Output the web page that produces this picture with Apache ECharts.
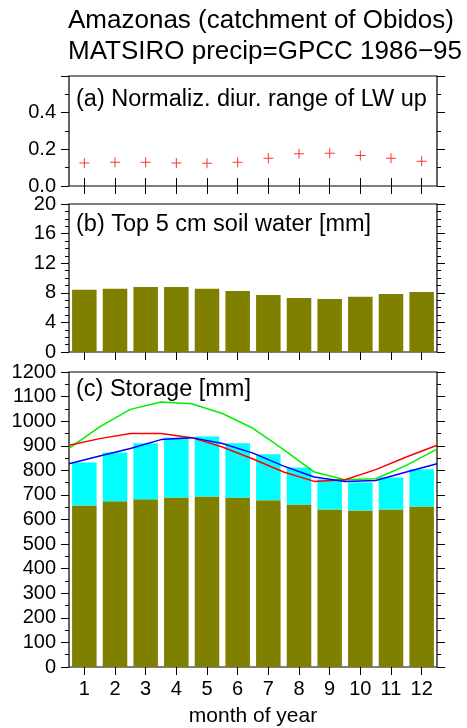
<!DOCTYPE html>
<html>
<head>
<meta charset="utf-8">
<title>Amazonas storage</title>
<script src="https://cdn.jsdelivr.net/npm/echarts@6/dist/echarts.min.js"></script>
<style>
    html, body { margin: 0; padding: 0; background: #fff; }
    #main { width: 467px; height: 728px; }
</style>
</head>
<body>
<div id="main"></div>
<script>
// 月份
var months = ['1', '2', '3', '4', '5', '6', '7', '8', '9', '10', '11', '12'];
// (a) normalized diurnal range of LW up
var lwRange = [0.125, 0.13, 0.13, 0.126, 0.124, 0.13, 0.152, 0.176, 0.178, 0.167, 0.151, 0.135];
// (b) top 5 cm soil water [mm]
var topSoil = [8.4, 8.55, 8.8, 8.8, 8.55, 8.25, 7.7, 7.3, 7.15, 7.45, 7.85, 8.1];
// (c) storage [mm], stacked bars
var soilStore = [657, 674, 682, 690, 694, 690, 678, 661, 641, 637, 641, 653];
var otherStore = [175, 199, 228, 244, 244, 220, 187, 151, 122, 114, 130, 151];
// (c) lines, given at month boundaries
var monthEdges = [0.5, 1.5, 2.5, 3.5, 4.5, 5.5, 6.5, 7.5, 8.5, 9.5, 10.5, 11.5, 12.5];
var greenLine = [889, 977, 1048, 1078, 1071, 1031, 971, 884, 793, 762, 766, 820, 886];
var redLine = [902, 929, 950, 950, 933, 895, 846, 793, 755, 762, 803, 854, 902];
var blueLine = [827, 858, 889, 925, 933, 909, 870, 817, 773, 755, 759, 793, 827];

var FONT = 'Liberation Sans, Arial, sans-serif';

function pairs(xs, ys) {
    return xs.map(function (x, i) { return [x, ys[i]]; });
}

var myChart = echarts.init(document.getElementById('main'));

var grids = [
    {left: 69, top: 76, width: 368, height: 110},
    {left: 69, top: 204, width: 368, height: 148},
    {left: 69, top: 372, width: 368, height: 295}
];
grids.forEach(function (g) {
    g.show = true;
    g.borderColor = '#000';
    g.borderWidth = 1.2;
    g.backgroundColor = 'transparent';
});

var tick = {show: true, length: 8, alignWithLabel: true, lineStyle: {color: '#000', width: 1}};

// x axes: bottom + top for each panel
var xAxes = [];
[0, 1, 2].forEach(function (gi) {
    xAxes.push({
        type: 'category', gridIndex: gi, position: 'bottom', data: months,
        axisLine: {show: false}, axisTick: tick,
        axisLabel: gi === 2 ? {color: '#000', fontSize: 20, fontFamily: FONT, margin: 12} : {show: false},
        name: gi === 2 ? 'month of year' : '',
        nameLocation: 'middle', nameGap: 39,
        nameTextStyle: {color: '#000', fontSize: 21, fontFamily: FONT}
    });
    xAxes.push({
        type: 'category', gridIndex: gi, position: 'top', data: months,
        axisLine: {show: false}, axisTick: tick, axisLabel: {show: false}
    });
});
// hidden value axis for the lines in (c)
xAxes.push({type: 'value', gridIndex: 2, min: 0.5, max: 12.5, show: false});

function yPair(gi, max, interval, split, fmt) {
    var minor = {show: true, splitNumber: split, length: 4, lineStyle: {color: '#000', width: 1}};
    var t = {show: true, length: 8, lineStyle: {color: '#000', width: 1}};
    return [{
        type: 'value', gridIndex: gi, position: 'left', min: 0, max: max, interval: interval,
        axisLine: {show: false}, axisTick: t, minorTick: minor, splitLine: {show: false},
        axisLabel: {color: '#000', fontSize: 20, fontFamily: FONT, margin: 13, formatter: fmt}
    }, {
        type: 'value', gridIndex: gi, position: 'right', min: 0, max: max, interval: interval,
        axisLine: {show: false}, axisTick: t, minorTick: minor, splitLine: {show: false},
        axisLabel: {show: false}
    }];
}

var plain = function (v) { return String(v); };
var yAxes = [].concat(
    yPair(0, 0.6, 0.2, 2, function (v) { return v > 0.5 ? '' : v.toFixed(1); }),
    yPair(1, 20, 4, 4, plain),
    yPair(2, 1200, 100, 2, plain)
);

var plus = 'path://M0,4.5H4.5V0H5.5V4.5H10V5.5H5.5V10H4.5V5.5H0Z';

function label(text, x, y, size) {
    return {
        type: 'text', left: x, top: y, z: 100,
        style: {text: text, fill: '#000', fontSize: size, fontFamily: FONT}
    };
}

var option = {
    animation: false,
    backgroundColor: '#fff',
    grid: grids,
    xAxis: xAxes,
    yAxis: yAxes,
    graphic: [
        label('Amazonas (catchment of Obidos)', 68, 8, 26),
        label('MATSIRO precip=GPCC 1986\u221295', 68, 39, 26),
        label('(a) Normaliz. diur. range of LW up', 76, 88, 23.5),
        label('(b) Top 5 cm soil water [mm]', 76, 213, 23.5),
        label('(c) Storage [mm]', 76, 378, 23.5)
    ],
    series: [
        {
            name: 'LW range', type: 'scatter', xAxisIndex: 0, yAxisIndex: 0,
            data: lwRange, symbol: plus, symbolSize: 10,
            itemStyle: {color: '#ff0000'}
        },
        {
            name: 'top soil', type: 'bar', xAxisIndex: 2, yAxisIndex: 2,
            data: topSoil, barCategoryGap: '20%',
            itemStyle: {color: '#808000'}
        },
        {
            name: 'soil', type: 'bar', xAxisIndex: 4, yAxisIndex: 4, stack: 's',
            data: soilStore, barCategoryGap: '20%',
            itemStyle: {color: '#808000'}
        },
        {
            name: 'other', type: 'bar', xAxisIndex: 4, yAxisIndex: 4, stack: 's',
            data: otherStore, barCategoryGap: '20%',
            itemStyle: {color: '#00ffff'}
        },
        {
            name: 'green', type: 'line', xAxisIndex: 6, yAxisIndex: 4,
            data: pairs(monthEdges, greenLine), showSymbol: false,
            lineStyle: {color: '#00ee00', width: 1.5}
        },
        {
            name: 'red', type: 'line', xAxisIndex: 6, yAxisIndex: 4,
            data: pairs(monthEdges, redLine), showSymbol: false,
            lineStyle: {color: '#ff0000', width: 1.5}
        },
        {
            name: 'blue', type: 'line', xAxisIndex: 6, yAxisIndex: 4,
            data: pairs(monthEdges, blueLine), showSymbol: false,
            lineStyle: {color: '#0000ff', width: 1.5}
        }
    ]
};

myChart.setOption(option);
</script>
</body>
</html>
